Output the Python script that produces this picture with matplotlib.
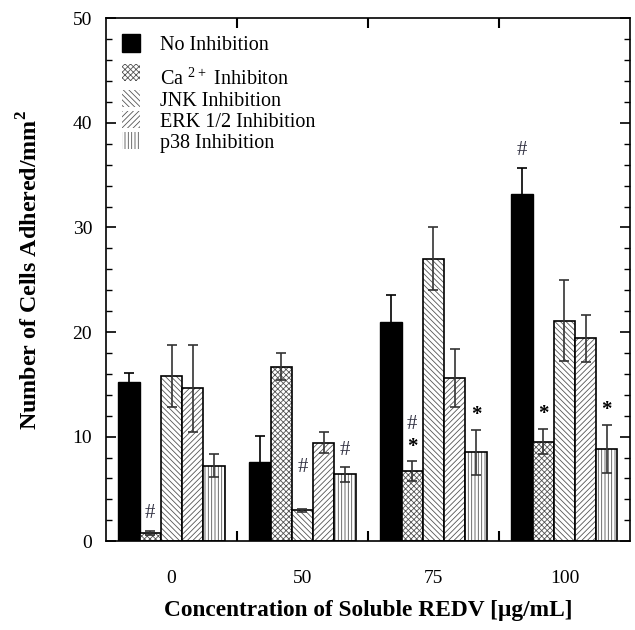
import matplotlib
matplotlib.use("Agg")
import matplotlib.pyplot as plt
import numpy as np
from matplotlib.patches import Patch
from matplotlib.ticker import MultipleLocator

plt.rcParams['font.family'] = ['Liberation Serif', 'DejaVu Serif']
plt.rcParams['mathtext.fontset'] = 'custom'
plt.rcParams['mathtext.rm'] = 'Liberation Serif'
plt.rcParams['mathtext.bf'] = 'Liberation Serif:bold'
plt.rcParams['hatch.linewidth'] = 0.6

concentrations = ['0', '50', '75', '100']
series = ['No Inhibition', '\nCa $^{2+}$ Inhibiton', 'JNK Inhibition',
          'ERK 1/2 Inhibition', 'p38 Inhibition']

no_inhib = [15.2, 7.6, 21.0, 33.2]
ca_inhib = [0.8, 16.7, 6.7, 9.5]
jnk_inhib = [15.8, 2.95, 27.0, 21.1]
erk_inhib = [14.6, 9.4, 15.6, 19.4]
p38_inhib = [7.2, 6.4, 8.5, 8.8]

no_err = [0.9, 2.5, 2.5, 2.5]
ca_err = [0.2, 1.3, 0.95, 1.2]
jnk_err = [3.0, 0.15, 3.0, 3.85]
erk_err = [4.2, 1.0, 2.75, 2.25]
p38_err = [1.1, 0.7, 2.15, 2.3]

# significance marks per (series index, group index)
marks = {(1, 0): '#', (2, 1): '#', (4, 1): '#',
         (1, 2): '*#', (4, 2): '*', (0, 3): '#', (1, 3): '*', (4, 3): '*'}

values = [no_inhib, ca_inhib, jnk_inhib, erk_inhib, p38_inhib]
errors = [no_err, ca_err, jnk_err, erk_err, p38_err]
hatches = [None, 'xxxxxx', '\\\\\\\\\\\\', '//////', '|||||']

fig = plt.figure(figsize=(6.35, 6.3), dpi=100)
ax = fig.add_axes([0.167, 0.141, 0.825, 0.830])

x = np.arange(len(concentrations))
w = 0.162
for i, (vals, errs) in enumerate(zip(values, errors)):
    pos = x + (i - 2) * w
    if hatches[i] is None:
        ax.bar(pos, vals, w, color='black', edgecolor='black', linewidth=1)
        ecol = 'black'
    else:
        ax.bar(pos, vals, w, color='white', edgecolor='#555555',
               hatch=hatches[i], linewidth=0)
        ax.bar(pos, vals, w, color='none', edgecolor='black', linewidth=1.2)
        ecol = '#333333'
    ax.errorbar(pos, vals, yerr=errs, fmt='none', ecolor=ecol,
                elinewidth=1.2, capsize=3.5, capthick=1.2)
    for j in range(len(vals)):
        m = marks.get((i, j))
        if m is None:
            continue
        top = vals[j] + errs[j]
        if i == 2 and j == 1:
            top = vals[j] + 2.5
        if m == '#':
            ax.text(pos[j], top + 0.7, '#', ha='center', va='bottom',
                    fontsize=15, color='#333344')
        elif m == '*':
            ax.text(pos[j], top + 0.5, '*', ha='center', va='bottom',
                    fontsize=15, fontweight='bold')
        else:
            ax.text(pos[j], top + 0.4, '*', ha='center', va='bottom',
                    fontsize=15, fontweight='bold')
            ax.text(pos[j], top + 2.6, '#', ha='center', va='bottom',
                    fontsize=15, color='#333344')

ax.set_xlim(-0.5, 3.5)
ax.set_ylim(0, 50)
ax.set_xticks(x)
ax.set_xticklabels(concentrations)
ax.set_xticks([0.5, 1.5, 2.5], minor=True)
ax.tick_params(axis='x', which='major', length=0, pad=21, labelsize=14)
ax.tick_params(axis='x', which='minor', direction='in', length=7,
               width=1.5, top=True, bottom=True)
ax.yaxis.set_major_locator(MultipleLocator(10))
ax.yaxis.set_minor_locator(MultipleLocator(2))
ax.tick_params(axis='y', which='major', direction='in', length=7, width=1.2,
               left=True, right=True, labelsize=14, pad=10)
ax.tick_params(axis='y', which='minor', direction='in', length=4, width=1,
               left=True, right=True)
for s in ax.spines.values():
    s.set_linewidth(1.2)

ax.set_xlabel('Concentration of Soluble REDV [\u00b5g/mL]', fontsize=16.8,
              fontweight='bold')
ax.set_ylabel('Number of Cells Adhered/mm$^\\mathbf{2}$', fontsize=17.3,
              fontweight='bold')
ax.xaxis.set_label_coords(0.5, -0.112)
ax.yaxis.set_label_coords(-0.121, 0.518)

handles = []
for i in range(5):
    if hatches[i] is None:
        handles.append(Patch(facecolor='black', edgecolor='black'))
    else:
        handles.append(Patch(facecolor='white', edgecolor='#555555',
                             hatch=hatches[i], linewidth=0))
leg = ax.legend(handles, series, loc='upper left', frameon=False,
                fontsize=14.5, handlelength=0.9, handleheight=0.95,
                handletextpad=1.0, labelspacing=0.02, borderaxespad=0.4,
                bbox_to_anchor=(0.0, 1.0))
leg.get_texts()[1].set_linespacing(0.6)

fig.savefig('out.png', dpi=100)
